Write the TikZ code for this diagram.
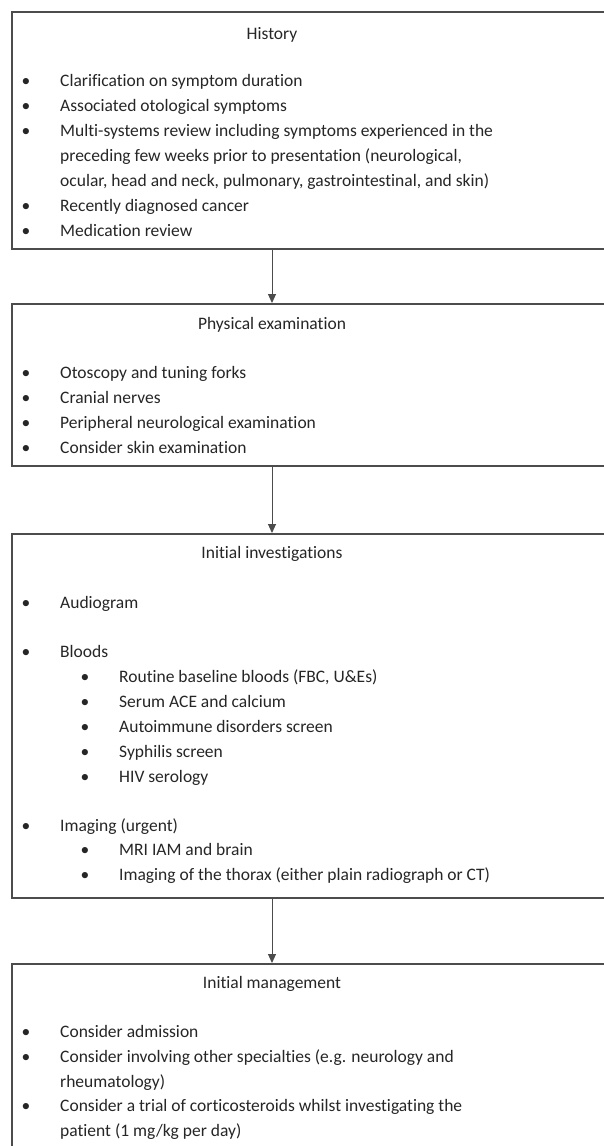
\documentclass[tikz,border=0pt]{standalone}
\usepackage{fontspec}
\setmainfont{Carlito}[Ligatures={NoCommon},RawFeature={-liga;-dlig;-calt}]
\usetikzlibrary{arrows.meta}
\definecolor{bord}{HTML}{4c4c4c}
\definecolor{ink}{HTML}{262626}
\newcommand\itm[4]{\node[bul] (#1b) at (#2-34,#3) {•}; \node[txt] (#1) at (#2,#3) {#4};}
\begin{document}
\begin{tikzpicture}[x=1pt,y=-1pt,
 fnt/.style={font=\fontsize{17.5}{20}\selectfont,text=ink,inner sep=0pt,yshift=-4pt},
 box/.style={draw=bord,line width=1.7pt,anchor=north west,minimum width=700pt,inner sep=0pt},
 ttl/.style={fnt,anchor=mid},
 txt/.style={fnt,anchor=mid west},
 bul/.style={fnt,anchor=mid},
 arr/.style={draw=bord,line width=1pt,-{Triangle[width=8pt,length=9pt]}}]
\useasboundingbox (0,0) rectangle (604,1146);
\clip (0,0) rectangle (604,1146);
\fill[white] (0,0) rectangle (604,1146);
% boxes
\node[box,minimum height=237pt] (hist) at (11,11) {};
\node[box,minimum height=162pt] (phys) at (11,303) {};
\node[box,minimum height=364pt] (inv) at (11,533) {};
\node[box,minimum height=260pt] (mgmt) at (11,963) {};
% History
\node[ttl] (histt) at (272,33) {History};
\itm{h1}{60}{80}{Clarification on symptom duration}
\itm{h2}{60}{105}{Associated otological symptoms}
\itm{h3}{60}{130}{Multi-systems review including symptoms experienced in the}
\node[txt] (h3b2) at (60,155) {preceding few weeks prior to presentation (neurological,};
\node[txt] (h3b3) at (60,180) {ocular, head and neck, pulmonary, gastrointestinal, and skin)};
\itm{h4}{60}{205}{Recently diagnosed cancer}
\itm{h5}{60}{230}{Medication review}
% Physical examination
\node[ttl] (physt) at (272,323) {Physical examination};
\itm{p1}{60}{372}{Otoscopy and tuning forks}
\itm{p2}{60}{397}{Cranial nerves}
\itm{p3}{60}{422}{Peripheral neurological examination}
\itm{p4}{60}{447}{Consider skin examination}
% Initial investigations
\node[ttl] (invt) at (272,552) {Initial investigations};
\itm{i1}{60}{602}{Audiogram}
\itm{i2}{60}{651}{Bloods}
\itm{i3}{119}{676}{Routine baseline bloods (FBC, U\&Es)}
\itm{i4}{119}{701}{Serum ACE and calcium}
\itm{i5}{119}{726}{Autoimmune disorders screen}
\itm{i6}{119}{751}{Syphilis screen}
\itm{i7}{119}{776}{HIV serology}
\itm{i8}{60}{825}{Imaging (urgent)}
\itm{i9}{119}{849}{MRI IAM and brain}
\itm{i10}{119}{874}{Imaging of the thorax (either plain radiograph or CT)}
% Initial management
\node[ttl] (mgmtt) at (272,982) {Initial management};
\itm{m1}{60}{1031}{Consider admission}
\itm{m2}{60}{1056}{Consider involving other specialties (e.g. neurology and}
\node[txt] (m2b2) at (60,1081) {rheumatology)};
\itm{m3}{60}{1105}{Consider a trial of corticosteroids whilst investigating the}
\node[txt] (m3b2) at (60,1130) {patient (1 mg/kg per day)};
% arrows
\draw[arr] (histt |- hist.south) -- (histt |- phys.north);
\draw[arr] (histt |- phys.south) -- (histt |- inv.north);
\draw[arr] (histt |- inv.south) -- (histt |- mgmt.north);
\end{tikzpicture}
\end{document}
